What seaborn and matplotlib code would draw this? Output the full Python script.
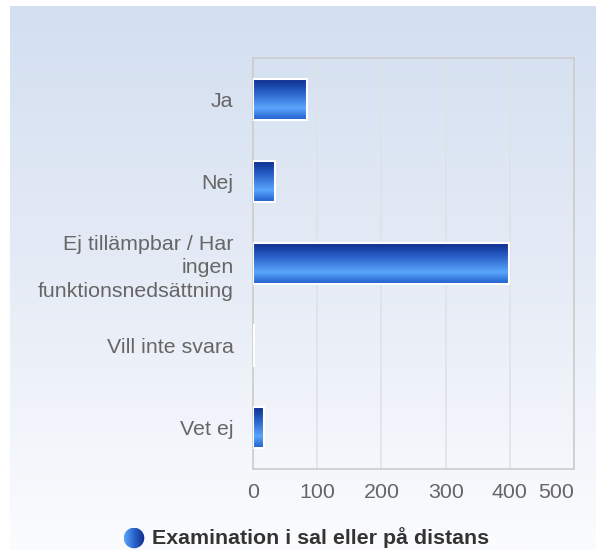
import numpy as np
import pandas as pd
import matplotlib
matplotlib.use("Agg")
import matplotlib.pyplot as plt
from matplotlib.colors import LinearSegmentedColormap
from matplotlib.patches import Rectangle, Circle
import seaborn as sns

categories = ["Ja", "Nej", "Ej tillämpbar / Har\ningen\nfunktionsnedsättning", "Vill inte svara", "Vet ej"]
values = [84, 35, 399, 1, 17]
series_name = "Examination i sal eller på distans"
x_ticks = [0, 100, 200, 300, 400, 500]

sns.set_theme(style="white")
plt.rcParams['font.family'] = ['Liberation Sans', 'DejaVu Sans']

W, H = 596, 550
fig = plt.figure(figsize=(W / 100, H / 100), dpi=100)
fig.patch.set_facecolor("white")

# background gradient panel
bg = fig.add_axes([10 / W, 0, (W - 10) / W, (H - 6) / H], zorder=0)
bg_cmap = LinearSegmentedColormap.from_list("bg", ["#d3dff0", "#e6ecf6", "#fbfcfe"])
bg.imshow(np.linspace(0, 1, 256).reshape(-1, 1), aspect="auto", cmap=bg_cmap, extent=(0, 1, 0, 1))
bg.set_axis_off()

left, right, top, bottom = 253, 574, 58, 469
ax = fig.add_axes([left / W, 1 - bottom / H, (right - left) / W, (bottom - top) / H], zorder=1)
ax.patch.set_alpha(0)

df = pd.DataFrame({"cat": categories, "val": values})
sns.barplot(data=df, x="val", y="cat", orient="h", ax=ax, width=0.5, color="#2a62d0", saturation=1)

ax.set_xlim(0, 500)
ax.set_ylim(4.5, -0.5)

bar_cmap = LinearSegmentedColormap.from_list(
    "bar", [(0, "#0b2a8a"), (0.35, "#2a62c9"), (0.72, "#5aa6fb"), (1, "#1d5ccc")])
grad = np.linspace(0, 1, 128).reshape(-1, 1)
for p in list(ax.patches):
    x0, y0 = p.get_x(), p.get_y()
    w, h = p.get_width(), p.get_height()
    p.set_visible(False)
    if w > 2:
        ax.imshow(grad, aspect="auto", cmap=bar_cmap, extent=(x0, x0 + w, y0 + h, y0),
                  zorder=2, interpolation="bilinear")
    ax.add_patch(Rectangle((x0, y0), w, h, fill=False, edgecolor="white", lw=1.5, zorder=3))
ax.set_xlim(0, 500)
ax.set_ylim(4.5, -0.5)

ax.set_xticks(x_ticks)
ax.set_xticklabels([str(t) for t in x_ticks])
ax.get_xticklabels()[-1].set_horizontalalignment("right")
ax.tick_params(axis="x", length=0, pad=10, labelsize=15.4, labelcolor="#666666")
ax.tick_params(axis="y", length=0, pad=14, labelsize=15.4, labelcolor="#666666")
for lbl in ax.get_yticklabels():
    lbl.set_multialignment("right")
    lbl.set_linespacing(1.32)
ax.set_xlabel("")
ax.set_ylabel("")
ax.grid(axis="x", color="#dfe2e6", lw=1.2)
ax.set_axisbelow(True)
for s in ax.spines.values():
    s.set_color("#cccccc")
    s.set_linewidth(1.2)

# legend
cx, cy, r = 134, 538, 10.5
lax = fig.add_axes([(cx - r) / W, 1 - (cy + r) / H, 2 * r / W, 2 * r / H], zorder=2)
leg_cmap = LinearSegmentedColormap.from_list("leg", ["#5aa6fb", "#2a62c9", "#0b2a8a"])
im = lax.imshow(np.linspace(0, 1, 64).reshape(1, -1), aspect="auto", cmap=leg_cmap,
                extent=(-1, 1, -1, 1), interpolation="bilinear")
circ = Circle((0, 0), 0.98, transform=lax.transData)
im.set_clip_path(circ)
lax.set_xlim(-1, 1)
lax.set_ylim(-1, 1)
lax.set_axis_off()
fig.text(152 / W, 1 - cy / H, series_name, ha="left", va="center", fontsize=15.4,
         fontweight="bold", color="#333333")

fig.savefig("out.png", dpi=100)
